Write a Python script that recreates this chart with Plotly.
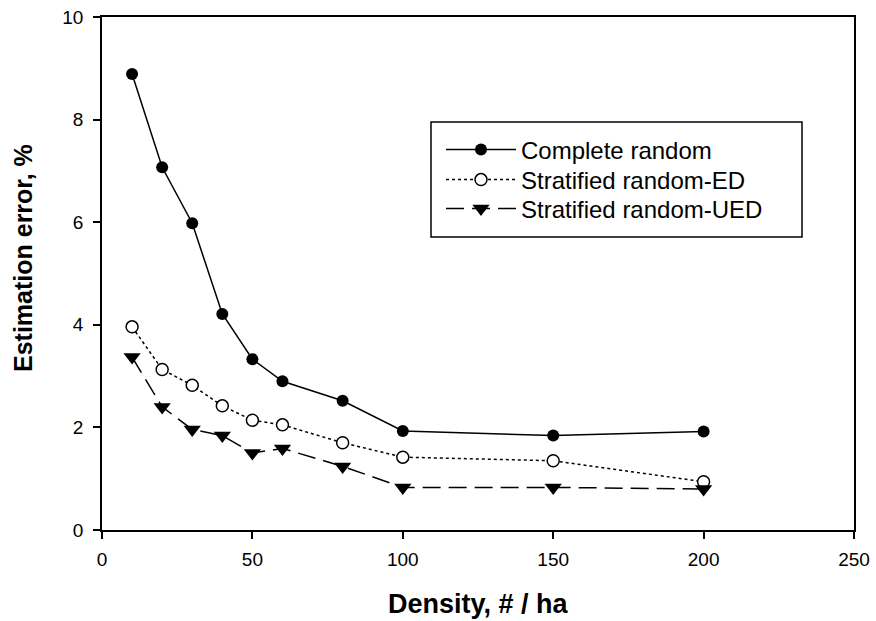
import plotly.graph_objects as go

# Sampling density (trees per hectare)
density = [10, 20, 30, 40, 50, 60, 80, 100, 150, 200]

# Estimation error (%) for each sampling design
complete_random = [8.89, 7.07, 5.98, 4.21, 3.33, 2.90, 2.52, 1.93, 1.84, 1.92]
stratified_ed = [3.96, 3.13, 2.82, 2.42, 2.14, 2.05, 1.70, 1.42, 1.35, 0.94]
stratified_ued = [3.37, 2.40, 1.96, 1.84, 1.50, 1.59, 1.24, 0.83, 0.83, 0.80]

FONT = "Liberation Sans, Arial, sans-serif"

# Plot area in pixels (for placing the legend box)
L, R, T, B = 102, 854, 17, 530
W, H = 876, 621


def px_x(p):
    return (p - L) / (R - L)


def px_y(p):
    return (B - p) / (B - T)


fig = go.Figure()

fig.add_trace(go.Scatter(
    x=density, y=complete_random, name="Complete random",
    mode="lines+markers", legend="legend", showlegend=True,
    line=dict(color="black", width=1.5),
    marker=dict(symbol="circle", size=12, color="black"),
))
fig.add_trace(go.Scatter(
    x=density, y=stratified_ed, name="Stratified random-ED",
    mode="lines+markers", legend="legend2", showlegend=True,
    line=dict(color="black", width=1.5, dash="dot"),
    marker=dict(symbol="circle", size=12, color="white",
                line=dict(color="black", width=1.5)),
))
fig.add_trace(go.Scatter(
    x=density, y=stratified_ued, name="Stratified random-UED",
    mode="lines+markers", legend="legend3", showlegend=True,
    line=dict(color="black", width=1.5, dash="18px,8px"),
    marker=dict(symbol="triangle-down", size=15, color="black"),
))

axis_common = dict(
    showline=True, linecolor="black", linewidth=1.5, mirror=True,
    ticks="outside", ticklen=7, tickwidth=1.5, tickcolor="black",
    showgrid=False, zeroline=False, automargin=False,
    tickfont=dict(family=FONT, size=19, color="black"),
)

fig.update_xaxes(
    range=[0, 250], tickvals=[0, 50, 100, 150, 200, 250],
    ticklabelstandoff=4,
    **axis_common,
)
fig.update_yaxes(
    range=[0, 10], tickvals=[0, 2, 4, 6, 8, 10],
    ticklabelstandoff=6,
    **axis_common,
)

# Axis titles
fig.add_annotation(
    text="<b>Density, # / ha</b>",
    xref="paper", yref="paper", x=0.5, y=px_y(604),
    xanchor="center", yanchor="middle", showarrow=False,
    font=dict(family=FONT, size=27, color="black"),
)
fig.add_annotation(
    text="<b>Estimation error, %</b>", textangle=-90,
    xref="paper", yref="paper", x=px_x(23), y=px_y(258),
    xanchor="center", yanchor="middle", showarrow=False,
    font=dict(family=FONT, size=25, color="black"),
)

# Legend frame
fig.add_shape(
    type="rect", xref="paper", yref="paper",
    x0=px_x(431), x1=px_x(802), y0=px_y(237), y1=px_y(122),
    line=dict(color="black", width=1.5), fillcolor="rgba(0,0,0,0)",
    layer="above",
)

legend_common = dict(
    xanchor="left", yanchor="middle", x=px_x(441),
    borderwidth=0, bgcolor="rgba(0,0,0,0)",
    font=dict(family=FONT, size=24, color="black"),
    itemwidth=70, visible=True,
)

fig.update_layout(
    width=W, height=H,
    margin=dict(l=L, r=W - R, t=T, b=H - B),
    paper_bgcolor="white", plot_bgcolor="white",
    font=dict(family=FONT, color="black"),
    showlegend=True,
    legend=dict(y=px_y(150), **legend_common),
    legend2=dict(y=px_y(180), **legend_common),
    legend3=dict(y=px_y(209), **legend_common),
)

fig.write_html("out.html")
